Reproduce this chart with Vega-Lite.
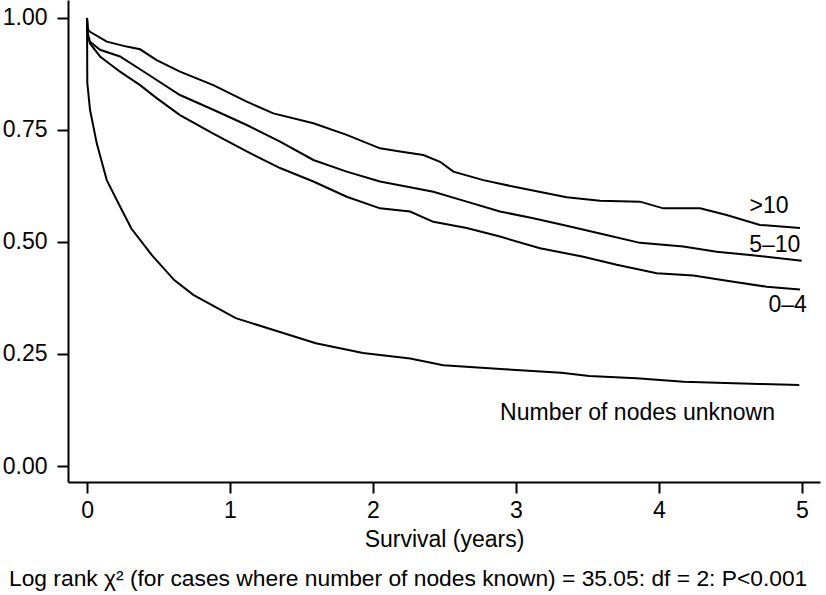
{
  "$schema": "https://vega.github.io/schema/vega-lite/v6.json",
  "width": 752,
  "height": 482,
  "autosize": {"type": "none"},
  "padding": {"left": 68, "top": 0, "right": 6, "bottom": 113},
  "background": "white",
  "config": {
    "view": {"stroke": null},
    "font": "Liberation Sans",
    "axis": {"grid": false, "domainColor": "black", "domainWidth": 2, "tickColor": "black", "tickWidth": 2, "tickSize": 11, "labelFont": "Liberation Sans", "labelFontSize": 23, "labelColor": "black", "titleFont": "Liberation Sans", "titleFontSize": 23, "titleFontWeight": "normal", "titleColor": "black"}
  },
  "title": {"text": "Log rank χ² (for cases where number of nodes known) = 35.05: df = 2: P<0.001", "orient": "bottom", "anchor": "start", "frame": "group", "dx": -59, "offset": 17, "font": "Liberation Sans", "fontSize": 22.8, "fontWeight": "normal", "color": "black"},
  "datasets": {
    "curves": [
      {"group": ">10", "time": 0, "surv": 1.0},
      {"group": ">10", "time": 0.005, "surv": 0.975},
      {"group": ">10", "time": 0.021, "surv": 0.969},
      {"group": ">10", "time": 0.138, "surv": 0.947},
      {"group": ">10", "time": 0.277, "surv": 0.936},
      {"group": ">10", "time": 0.371, "surv": 0.93},
      {"group": ">10", "time": 0.487, "surv": 0.906},
      {"group": ">10", "time": 0.65, "surv": 0.88},
      {"group": ">10", "time": 0.883, "surv": 0.85},
      {"group": ">10", "time": 1.117, "surv": 0.813},
      {"group": ">10", "time": 1.303, "surv": 0.787},
      {"group": ">10", "time": 1.583, "surv": 0.765},
      {"group": ">10", "time": 1.816, "surv": 0.739},
      {"group": ">10", "time": 2.049, "surv": 0.709},
      {"group": ">10", "time": 2.189, "surv": 0.702},
      {"group": ">10", "time": 2.352, "surv": 0.694},
      {"group": ">10", "time": 2.469, "surv": 0.679},
      {"group": ">10", "time": 2.562, "surv": 0.657},
      {"group": ">10", "time": 2.772, "surv": 0.638},
      {"group": ">10", "time": 3.005, "surv": 0.622},
      {"group": ">10", "time": 3.354, "surv": 0.6},
      {"group": ">10", "time": 3.587, "surv": 0.592},
      {"group": ">10", "time": 3.867, "surv": 0.59},
      {"group": ">10", "time": 4.03, "surv": 0.575},
      {"group": ">10", "time": 4.287, "surv": 0.575},
      {"group": ">10", "time": 4.473, "surv": 0.56},
      {"group": ">10", "time": 4.706, "surv": 0.538},
      {"group": ">10", "time": 4.986, "surv": 0.531},
      {"group": "5–10", "time": 0, "surv": 1.0},
      {"group": "5–10", "time": 0.005, "surv": 0.965},
      {"group": "5–10", "time": 0.021, "surv": 0.947},
      {"group": "5–10", "time": 0.091, "surv": 0.929},
      {"group": "5–10", "time": 0.231, "surv": 0.914},
      {"group": "5–10", "time": 0.417, "surv": 0.876},
      {"group": "5–10", "time": 0.65, "surv": 0.828},
      {"group": "5–10", "time": 0.883, "surv": 0.795},
      {"group": "5–10", "time": 1.117, "surv": 0.761},
      {"group": "5–10", "time": 1.35, "surv": 0.724},
      {"group": "5–10", "time": 1.583, "surv": 0.683},
      {"group": "5–10", "time": 1.816, "surv": 0.657},
      {"group": "5–10", "time": 2.049, "surv": 0.635},
      {"group": "5–10", "time": 2.259, "surv": 0.622},
      {"group": "5–10", "time": 2.422, "surv": 0.612},
      {"group": "5–10", "time": 2.655, "surv": 0.59},
      {"group": "5–10", "time": 2.888, "surv": 0.568},
      {"group": "5–10", "time": 3.121, "surv": 0.553},
      {"group": "5–10", "time": 3.354, "surv": 0.536},
      {"group": "5–10", "time": 3.587, "surv": 0.519},
      {"group": "5–10", "time": 3.867, "surv": 0.498},
      {"group": "5–10", "time": 4.17, "surv": 0.49},
      {"group": "5–10", "time": 4.403, "surv": 0.478},
      {"group": "5–10", "time": 4.636, "surv": 0.471},
      {"group": "5–10", "time": 4.998, "surv": 0.458},
      {"group": "0–4", "time": 0, "surv": 1.0},
      {"group": "0–4", "time": 0.005, "surv": 0.96},
      {"group": "0–4", "time": 0.021, "surv": 0.943},
      {"group": "0–4", "time": 0.091, "surv": 0.914},
      {"group": "0–4", "time": 0.231, "surv": 0.88},
      {"group": "0–4", "time": 0.371, "surv": 0.85},
      {"group": "0–4", "time": 0.487, "surv": 0.821},
      {"group": "0–4", "time": 0.65, "surv": 0.783},
      {"group": "0–4", "time": 0.883, "surv": 0.742},
      {"group": "0–4", "time": 1.117, "surv": 0.702},
      {"group": "0–4", "time": 1.35, "surv": 0.665},
      {"group": "0–4", "time": 1.583, "surv": 0.635},
      {"group": "0–4", "time": 1.816, "surv": 0.601},
      {"group": "0–4", "time": 2.049, "surv": 0.575},
      {"group": "0–4", "time": 2.259, "surv": 0.568},
      {"group": "0–4", "time": 2.422, "surv": 0.545},
      {"group": "0–4", "time": 2.655, "surv": 0.531},
      {"group": "0–4", "time": 2.888, "surv": 0.512},
      {"group": "0–4", "time": 3.168, "surv": 0.486},
      {"group": "0–4", "time": 3.471, "surv": 0.467},
      {"group": "0–4", "time": 3.704, "surv": 0.449},
      {"group": "0–4", "time": 3.984, "surv": 0.43},
      {"group": "0–4", "time": 4.24, "surv": 0.425},
      {"group": "0–4", "time": 4.52, "surv": 0.411},
      {"group": "0–4", "time": 4.753, "surv": 0.4},
      {"group": "0–4", "time": 4.986, "surv": 0.394},
      {"group": "unknown", "time": 0, "surv": 1.0},
      {"group": "unknown", "time": 0.002, "surv": 0.855},
      {"group": "unknown", "time": 0.021, "surv": 0.795},
      {"group": "unknown", "time": 0.068, "surv": 0.72},
      {"group": "unknown", "time": 0.138, "surv": 0.638},
      {"group": "unknown", "time": 0.231, "surv": 0.579},
      {"group": "unknown", "time": 0.31, "surv": 0.53},
      {"group": "unknown", "time": 0.455, "surv": 0.47},
      {"group": "unknown", "time": 0.61, "surv": 0.415},
      {"group": "unknown", "time": 0.743, "surv": 0.382},
      {"group": "unknown", "time": 1.04, "surv": 0.33},
      {"group": "unknown", "time": 1.271, "surv": 0.307},
      {"group": "unknown", "time": 1.6, "surv": 0.274},
      {"group": "unknown", "time": 1.93, "surv": 0.252},
      {"group": "unknown", "time": 2.26, "surv": 0.24},
      {"group": "unknown", "time": 2.491, "surv": 0.225},
      {"group": "unknown", "time": 2.92, "surv": 0.216},
      {"group": "unknown", "time": 3.316, "surv": 0.208},
      {"group": "unknown", "time": 3.513, "surv": 0.201},
      {"group": "unknown", "time": 3.843, "surv": 0.196},
      {"group": "unknown", "time": 4.173, "surv": 0.188},
      {"group": "unknown", "time": 4.701, "surv": 0.183},
      {"group": "unknown", "time": 4.981, "surv": 0.181}
    ],
    "labels": [
      {"label": ">10", "time": 4.77, "surv": 0.58},
      {"label": "5–10", "time": 4.81, "surv": 0.493},
      {"label": "0–4", "time": 4.9, "surv": 0.359},
      {"label": "Number of nodes unknown", "time": 3.85, "surv": 0.118}
    ]
  },
  "encoding": {
    "x": {"field": "time", "type": "quantitative", "scale": {"domain": [-0.133, 5.126], "nice": false, "zero": false},
      "axis": {"values": [0, 1, 2, 3, 4, 5], "format": "d", "title": "Survival (years)", "labelPadding": 6, "titlePadding": 6}},
    "y": {"field": "surv", "type": "quantitative", "scale": {"domain": [-0.0357, 1.04], "nice": false, "zero": false},
      "axis": {"values": [0, 0.25, 0.5, 0.75, 1], "format": ".2f", "title": null, "labelPadding": 10}}
  },
  "layer": [
    {
      "data": {"name": "curves"},
      "mark": {"type": "line", "color": "black", "strokeWidth": 2, "interpolate": "linear"},
      "encoding": {"detail": {"field": "group"}, "order": {"field": "time", "type": "quantitative"}}
    },
    {
      "data": {"name": "labels"},
      "mark": {"type": "text", "color": "black", "fontSize": 23, "font": "Liberation Sans", "align": "center", "baseline": "middle"},
      "encoding": {"text": {"field": "label"}}
    }
  ]
}
